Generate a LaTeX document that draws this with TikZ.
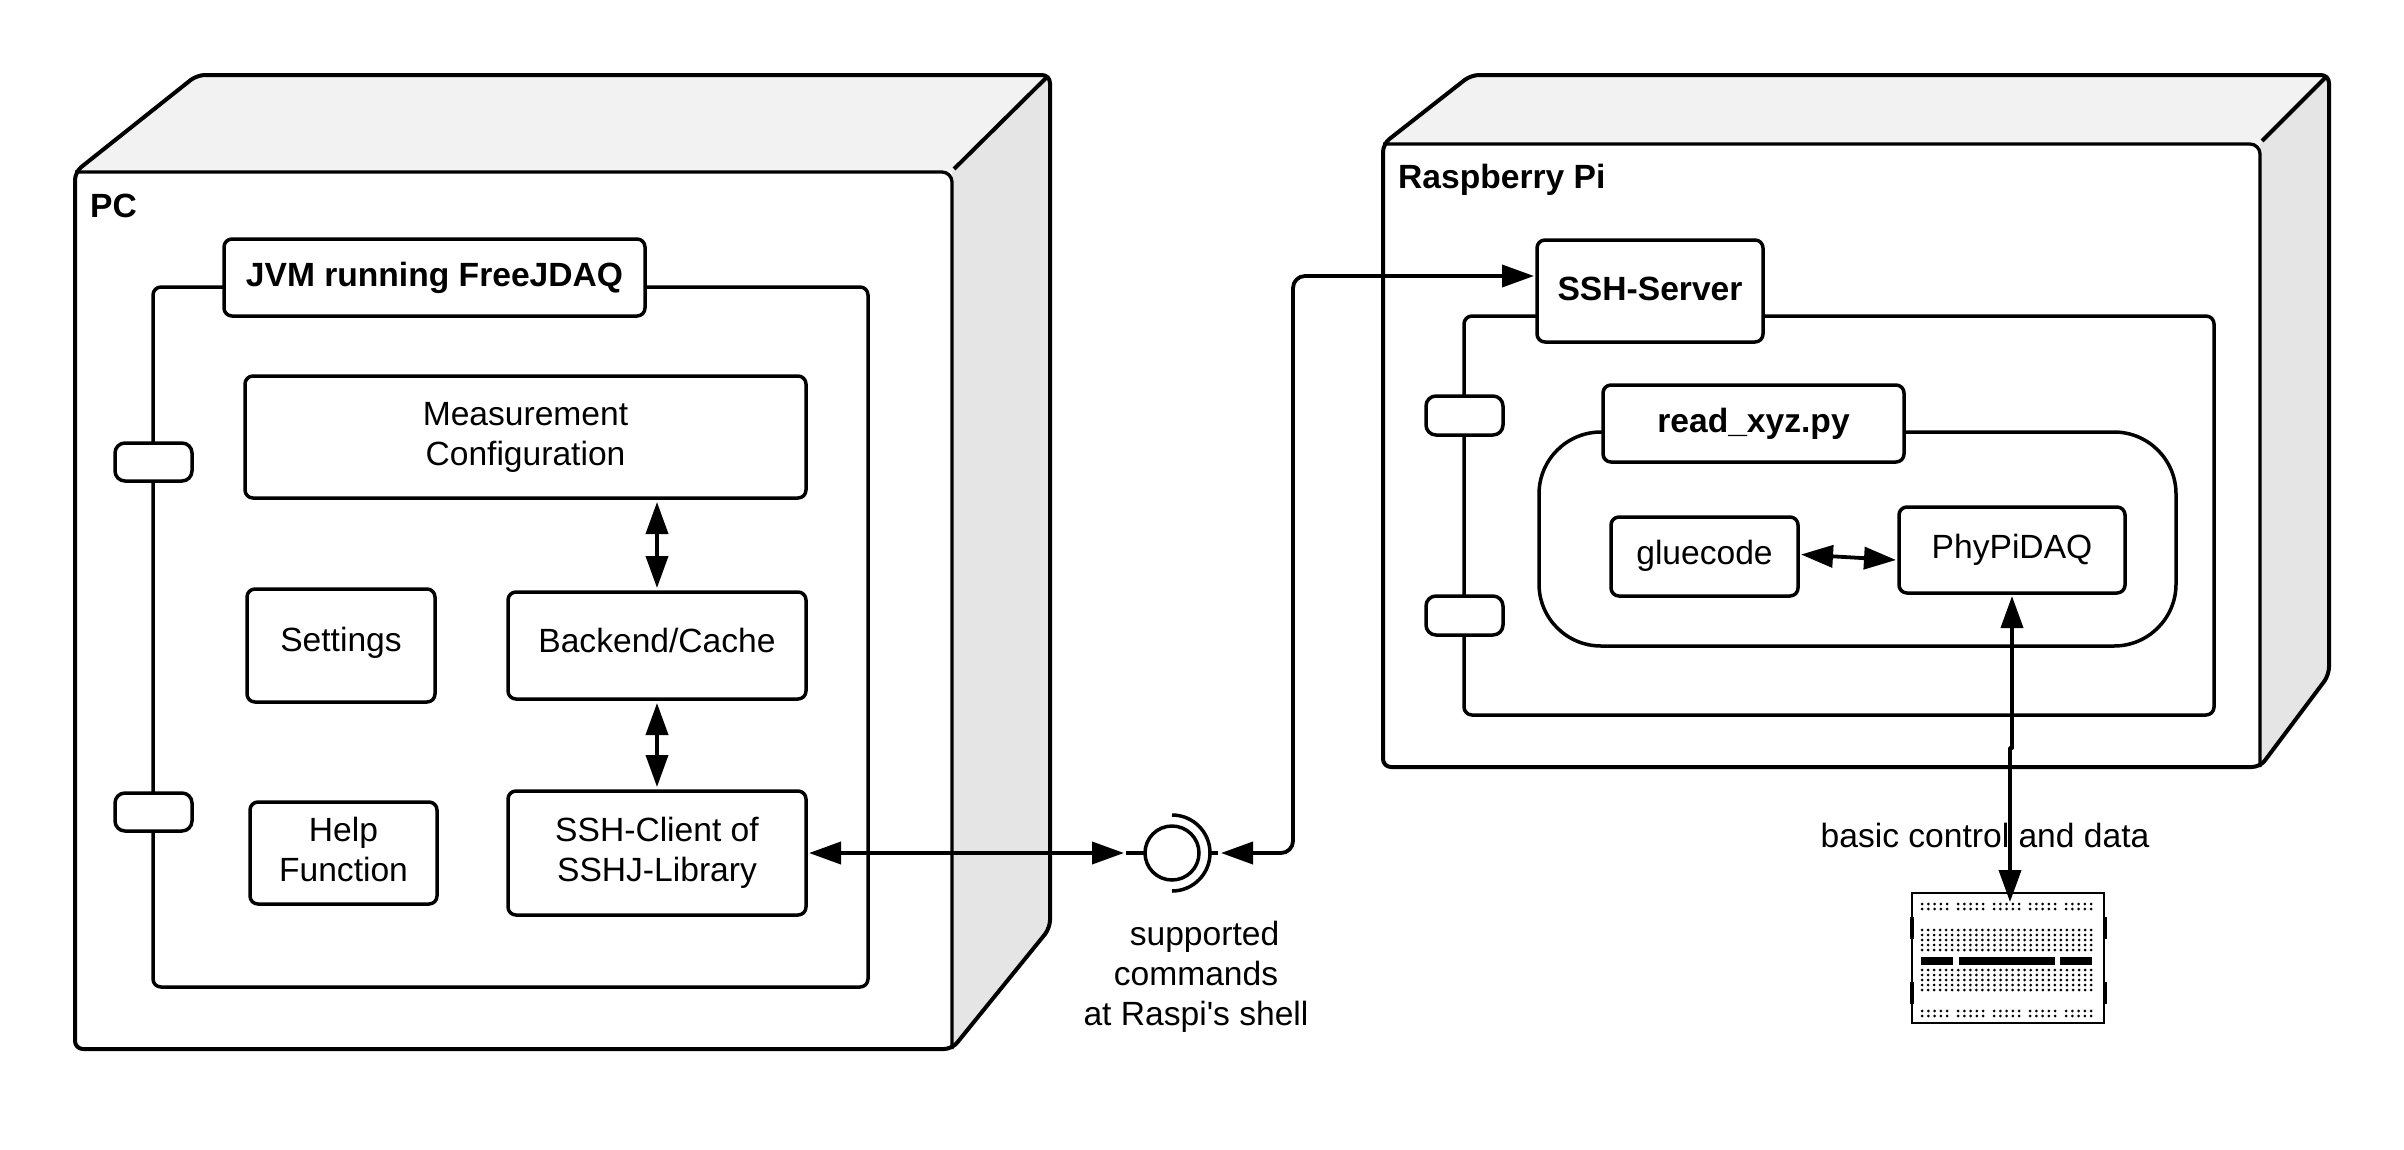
\documentclass[tikz,border=0pt]{standalone}
\usepackage{fontspec}
\setmainfont{Liberation Sans}
\newfontfamily\plainf{Liberation Sans}
\usetikzlibrary{arrows.meta,calc}
\tikzset{
  ln/.style={line width=3.5pt,line join=round},
  cube/.style={ln,line width=4pt,draw=black,rounded corners=8pt},
  inner/.style={ln,line width=3.3pt,draw=black,rounded corners=10pt},
  diag/.style={ln,line width=4pt,draw=black},
  boxn/.style={ln,draw=black,fill=white,rounded corners=8pt,inner sep=0pt,outer sep=0pt,align=center,font=\fontsize{33.6}{40}\selectfont},
  labn/.style={boxn,font=\fontsize{33.6}{40}\selectfont\bfseries},
  portn/.style={boxn,rounded corners=10pt},
  frameb/.style={boxn},
  txt/.style={inner sep=0pt,align=center,font=\fontsize{33.6}{40}\selectfont},
  conn/.style={ln,line width=3.8pt,rounded corners=12pt,{Triangle[length=32pt,width=22pt]}-{Triangle[length=32pt,width=22pt]}},
  stub/.style={ln},
  dot/.style={fill=black,draw=none},
}
\newcommand{\bx}[7]{\node[#6,minimum width=#4pt-#2pt,minimum height=#5pt-#3pt] (#1) at ({(#2+#4)/2},{(#3+#5)/2}) {#7};}
\newcommand{\up}[2]{\raisebox{#1}{\begin{tabular}{@{}c@{}}#2\end{tabular}}}
\begin{document}
\begin{tikzpicture}[x=1pt,y=-1pt]
\useasboundingbox (0,0) rectangle (2404,1149);
\fill[white] (0,0) rectangle (2404,1149);
% PC cube
\fill[black!5] (75,172) -- (197,75) -- (1050,75) -- (952,172) -- cycle;
\fill[black!10] (952,172) -- (1050,75) -- (1050,928) -- (952,1049) -- cycle;
\draw[cube] (75,172) -- (197,75) -- (1050,75) -- (1050,928) -- (952,1049) -- (75,1049) -- cycle;
\draw[inner] (75,172) -- (952,172) -- (952,1049);
\draw[diag] (954,169) -- (1047,77);
\node[txt,font=\fontsize{33.6}{40}\selectfont\bfseries,anchor=west] (pc) at (90,206) {PC};
% JVM
\bx{jvm}{153}{287}{868}{987}{frameb}{}
\bx{jvml}{224}{239}{645}{316}{labn}{\raisebox{1pt}{JVM running FreeJDAQ}}
\bx{p1}{115}{443}{192}{481}{portn}{}
\bx{p2}{115}{793}{192}{831}{portn}{}
\bx{meas}{245}{376}{806}{498}{boxn}{\up{-2.5pt}{Measurement\\Configuration}}
\bx{sett}{247}{589}{435}{702}{boxn}{\raisebox{12pt}{Settings}}
\bx{back}{508}{592}{806}{699}{boxn}{\raisebox{11pt}{Backend/Cache}}
\bx{help}{250}{802}{437}{904}{boxn}{\up{11pt}{Help\\Function}}
\bx{cli}{508}{791}{806}{915}{boxn}{\up{-1pt}{SSH-Client of\\SSHJ-Library}}
\draw[conn] ($(back.north |- meas.south)+(0,4)$) -- ($(back.north)+(0,-4)$);
\draw[conn] ($(back.south)+(0,4)$) -- ($(cli.north)+(0,-4)$);
% Raspberry cube
\fill[black!5] (1383,144) -- (1471,75) -- (2329,75) -- (2260,144) -- cycle;
\fill[black!10] (2260,144) -- (2329,75) -- (2329,675) -- (2260,767) -- cycle;
\draw[cube] (1383,144) -- (1471,75) -- (2329,75) -- (2329,675) -- (2260,767) -- (1383,767) -- cycle;
\draw[inner] (1383,144) -- (2260,144) -- (2260,767);
\draw[diag] (2262,141) -- (2326,77);
\node[txt,font=\fontsize{33.6}{40}\selectfont\bfseries,anchor=west] (rpi) at (1398,180) {Raspberry Pi};
\bx{srvf}{1464}{316}{2214}{715}{frameb}{}
\bx{srv}{1537}{240}{1763}{342}{labn}{\raisebox{4pt}{SSH-Server}}
\bx{p3}{1426}{396}{1503}{435}{portn}{}
\bx{p4}{1426}{596}{1503}{635}{portn}{}
\bx{pyf}{1539}{432}{2176}{646}{frameb,rounded corners=62pt}{}
\bx{py}{1603}{385}{1904}{462}{labn}{read\_xyz.py}
\bx{glue}{1611}{517}{1798}{596}{boxn}{\raisebox{8pt}{gluecode}}
\bx{phy}{1899}{507}{2125}{593}{boxn}{\raisebox{6pt}{PhyPiDAQ}}
\draw[conn] ($(glue.east)+(3,-2)$) -- ($(phy.west)+(-3,10)$);
% Interface
\node[circle,ln,draw=black,minimum size=54pt,inner sep=0pt,outer sep=0pt] (lol) at (1172,853) {};
\draw[ln] (1172,815) arc[start angle=90,end angle=-90,radius=38pt];
\coordinate (arcr) at (1210,853);
\draw[stub] (lol.west) -- ++(-19,0);
\draw[stub] (arcr) -- ++(8,0);
\draw[conn] ($(cli.east)+(3,0)$) -- (1124,853);
\draw[conn] (1221,853) -- (1293,853) -- (1293,276) -- ($(srv.west |- 0,276)+(-3,0)$);
\node[txt] (cmd) at (1196,977) {\hspace*{17pt}supported\\commands\\{\plainf at Raspi's shell}};
% Breadboard
\node[inner sep=0pt,outer sep=0pt,minimum width=192pt,minimum height=130pt,draw=black,line width=2.6pt,fill=white] (bb) at (2008,958) {};
\foreach \yy in {917,982} \fill (1909.5,\yy) rectangle ++(4,22);
\foreach \yy in {917,982} \fill (2102.5,\yy) rectangle ++(4,22);
\fill (1921,956.5) rectangle (1953,964.5);
\fill (1959,956.5) rectangle (2055,964.5);
\fill (2060,956.5) rectangle (2092,964.5);
\foreach \gx in {0,36,72,108,144}{
  \foreach \i in {0,...,4}{
    \foreach \yy in {904,909,1011,1016}{
      \fill[dot] ({1922+\gx+\i*6.25},\yy) circle[radius=1.5pt];
    }
  }
}
\foreach \i in {0,...,28}{
  \foreach \yy in {930,935,940,945,950,970,975,980,985,990}{
    \fill[dot] ({1922+\i*6.04},\yy) circle[radius=1.5pt];
  }
}
% Basic control
\node[txt] (bc) at (1985,835) {basic control and data};
\coordinate (mid1) at (2012,748);
\coordinate (mid2) at (2010,748);
\draw[conn,rounded corners=0pt] ($(phy.south -| mid1)+(0,3)$) -- (mid1) -- (mid2) -- ($(bb.north -| mid2)+(0,9)$);
\end{tikzpicture}
\end{document}
